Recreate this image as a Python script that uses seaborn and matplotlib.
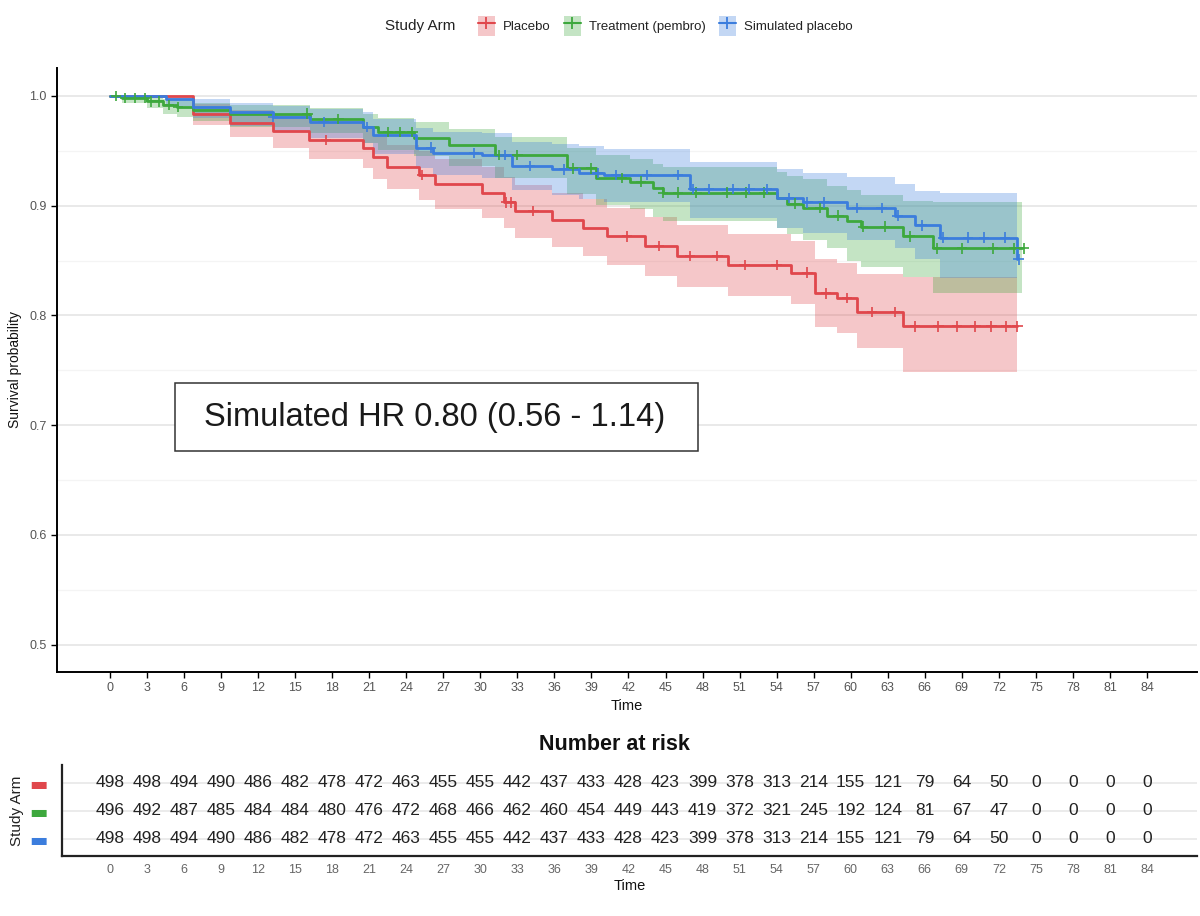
import numpy as np
import pandas as pd
import matplotlib
matplotlib.use("Agg")
import matplotlib.pyplot as plt
from matplotlib.patches import Patch, Rectangle
from matplotlib.lines import Line2D
import seaborn as sns

# ---- data ----
arms = ["Placebo", "Treatment (pembro)", "Simulated placebo"]
colors = ["#E0474C", "#3DA83D", "#3B7DDD"]

# Placebo (red)
pl_time = [0, 6.7, 9.7, 13.2, 16.1, 20.5, 21.3, 22.4, 25.0, 26.3, 30.1, 31.9, 32.8,
           35.8, 38.3, 40.3, 43.3, 45.9, 50.1, 55.2, 57.1, 58.9, 60.5, 64.2, 73.5]
pl_surv = [1.0, 0.984, 0.975, 0.968, 0.960, 0.953, 0.944, 0.935, 0.928, 0.920, 0.912, 0.903, 0.895,
           0.887, 0.880, 0.872, 0.863, 0.854, 0.846, 0.839, 0.820, 0.816, 0.803, 0.790, 0.790]
pl_lo = [1.0, 0.974, 0.963, 0.953, 0.943, 0.934, 0.924, 0.915, 0.905, 0.897, 0.889, 0.880, 0.871,
         0.862, 0.854, 0.846, 0.836, 0.826, 0.818, 0.810, 0.789, 0.784, 0.770, 0.748, 0.748]
pl_hi = [1.0, 0.993, 0.987, 0.983, 0.977, 0.972, 0.964, 0.955, 0.950, 0.943, 0.935, 0.926, 0.919,
         0.912, 0.906, 0.898, 0.890, 0.882, 0.874, 0.868, 0.851, 0.848, 0.838, 0.835, 0.835]
pl_cens = [17.5, 25.3, 32.1, 32.5, 34.3, 41.9, 44.5, 47.0, 49.2, 51.4, 54.0, 56.5, 58.0, 59.7,
           61.7, 63.6, 65.2, 67.1, 68.6, 70.1, 71.4, 72.6, 73.5]

# Treatment (green)
tr_time = [0, 1.0, 3.0, 4.3, 5.4, 6.7, 9.7, 16.2, 20.5, 21.7, 24.6, 27.5, 31.2, 37.0, 39.4,
           42.1, 44.0, 44.8, 54.0, 54.8, 56.1, 58.1, 59.7, 60.8, 64.2, 66.7, 73.9]
tr_surv = [1.0, 0.998, 0.995, 0.992, 0.990, 0.987, 0.984, 0.979, 0.972, 0.967, 0.962, 0.955, 0.946,
           0.934, 0.925, 0.922, 0.916, 0.912, 0.907, 0.902, 0.898, 0.891, 0.886, 0.881, 0.872,
           0.861, 0.861]
tr_lo = [1.0, 0.994, 0.989, 0.984, 0.981, 0.977, 0.972, 0.966, 0.957, 0.951, 0.945, 0.936, 0.925,
         0.911, 0.901, 0.897, 0.890, 0.886, 0.880, 0.874, 0.869, 0.861, 0.850, 0.844, 0.835,
         0.820, 0.820]
tr_hi = [1.0, 1.0, 0.999, 0.997, 0.996, 0.994, 0.992, 0.989, 0.984, 0.980, 0.976, 0.970, 0.963,
         0.953, 0.946, 0.943, 0.938, 0.935, 0.931, 0.927, 0.924, 0.918, 0.914, 0.910, 0.904,
         0.903, 0.903]
tr_cens = [0.5, 1.2, 2.0, 2.8, 3.3, 4.0, 4.8, 5.5, 16.0, 18.5, 22.5, 23.5, 24.5, 31.5, 33.0,
           37.5, 39.0, 41.5, 43.0, 44.8, 46.0, 47.5, 50.0, 51.5, 53.0, 55.5, 57.5, 59.0, 61.0,
           62.8, 64.8, 67.0, 69.0, 71.5, 73.2, 74.0]

# Simulated placebo (blue)
sp_time = [0, 4.5, 6.7, 9.7, 13.2, 16.2, 20.5, 21.3, 24.8, 26.2, 30.1, 32.6, 35.8, 38.0, 40.0,
           47.0, 54.0, 56.1, 59.7, 63.6, 65.2, 67.2, 73.5]
sp_surv = [1.0, 0.997, 0.990, 0.985, 0.981, 0.976, 0.972, 0.964, 0.953, 0.948, 0.946, 0.936, 0.933,
           0.930, 0.928, 0.915, 0.907, 0.903, 0.898, 0.891, 0.882, 0.871, 0.851]
sp_lo = [1.0, 0.991, 0.980, 0.973, 0.968, 0.962, 0.957, 0.947, 0.934, 0.928, 0.925, 0.914, 0.910,
         0.906, 0.903, 0.889, 0.880, 0.875, 0.869, 0.861, 0.851, 0.834, 0.834]
sp_hi = [1.0, 1.0, 0.997, 0.994, 0.991, 0.988, 0.985, 0.979, 0.971, 0.967, 0.966, 0.958, 0.956,
         0.954, 0.952, 0.940, 0.933, 0.930, 0.926, 0.920, 0.913, 0.912, 0.912]
sp_cens = [13.2, 17.3, 20.8, 26.0, 29.5, 32.0, 34.0, 36.8, 39.5, 41.0, 43.5, 46.0, 47.2, 48.5,
           50.5, 51.8, 53.2, 55.0, 56.5, 57.8, 60.5, 62.5, 63.8, 65.8, 67.5, 69.5, 70.8, 72.5, 73.6]

# number at risk
risk_times = list(range(0, 85, 3))
risk_placebo = [498, 498, 494, 490, 486, 482, 478, 472, 463, 455, 455, 442, 437, 433, 428, 423,
                399, 378, 313, 214, 155, 121, 79, 64, 50, 0, 0, 0, 0]
risk_treat = [496, 492, 487, 485, 484, 484, 480, 476, 472, 468, 466, 462, 460, 454, 449, 443,
              419, 372, 321, 245, 192, 124, 81, 67, 47, 0, 0, 0, 0]
risk_sim = [498, 498, 494, 490, 486, 482, 478, 472, 463, 455, 455, 442, 437, 433, 428, 423,
            399, 378, 313, 214, 155, 121, 79, 64, 50, 0, 0, 0, 0]

curves = [(pl_time, pl_surv, pl_lo, pl_hi, pl_cens),
          (tr_time, tr_surv, tr_lo, tr_hi, tr_cens),
          (sp_time, sp_surv, sp_lo, sp_hi, sp_cens)]
risk = [risk_placebo, risk_treat, risk_sim]

# long tables for seaborn
surv_df = pd.concat([pd.DataFrame({"time": c[0], "surv": c[1], "arm": a})
                     for a, c in zip(arms, curves)], ignore_index=True)
cens_rows = []
for a, c in zip(arms, curves):
    t = np.array(c[0])
    s = np.array(c[1])
    for ct in c[4]:
        idx = np.searchsorted(t, ct, side="right") - 1
        cens_rows.append({"time": ct, "surv": s[idx], "arm": a})
cens_df = pd.DataFrame(cens_rows)

sns.set_theme(style="white")
plt.rcParams["font.family"] = ["Liberation Sans", "DejaVu Sans"]

W, H = 1200, 916
fig = plt.figure(figsize=(12, 9.16), dpi=100)
pal = dict(zip(arms, colors))

# ---- main survival panel ----
ax = fig.add_axes([57 / W, 1 - 672 / H, 1140 / W, 604 / H])
for (a, c), col in zip(zip(arms, curves), colors):
    ax.fill_between(c[0], c[2], c[3], step="post", color=col, alpha=0.3, lw=0, zorder=1)
sns.lineplot(data=surv_df, x="time", y="surv", hue="arm", palette=pal, estimator=None,
             drawstyle="steps-post", lw=2, legend=False, ax=ax, zorder=3)
sns.scatterplot(data=cens_df, x="time", y="surv", hue="arm", palette=pal, marker="+",
                s=55, linewidth=1.2, legend=False, ax=ax, zorder=4)

ax.set_xlim(-4.29, 88.05)
ax.set_ylim(0.475, 1.0255)
ax.set_xticks(risk_times)
ax.set_yticks([0.5, 0.6, 0.7, 0.8, 0.9, 1.0])
ax.set_yticks(np.arange(0.55, 1.0, 0.1), minor=True)
ax.grid(False)
ax.yaxis.grid(True, which="major", color="#E3E3E3", lw=1.1)
ax.yaxis.grid(True, which="minor", color="#F4F4F4", lw=0.9)
ax.set_axisbelow(True)
for sp in ["top", "right"]:
    ax.spines[sp].set_visible(False)
for sp in ["left", "bottom"]:
    ax.spines[sp].set_color("black")
    ax.spines[sp].set_linewidth(1.4)
ax.tick_params(axis="both", which="major", direction="out", length=4, width=1,
               color="black", labelcolor="#555555", labelsize=9, bottom=True, left=True)
ax.tick_params(axis="y", which="minor", length=0)
ax.set_xlabel("Time", fontsize=10.5, color="#111111", labelpad=3)
ax.set_ylabel("Survival probability", fontsize=10, color="#111111", labelpad=5)

# HR annotation box
ax.add_patch(Rectangle((0.1035, 0.366), 0.4588, 0.1125, transform=ax.transAxes,
                       fc="white", ec="#333333", lw=1.1, zorder=5))
ax.text(0.331, 0.422, "Simulated HR 0.80 (0.56 - 1.14)", transform=ax.transAxes,
        ha="center", va="center", fontsize=23.5, color="#1A1A1A", zorder=6)

# legend on top
handles = [(Patch(fc=c, alpha=0.3, lw=0),
            Line2D([], [], color=c, lw=1.5, marker="+", ms=8, mew=1.3)) for c in colors]
fig.text(385 / W, 1 - 26 / H, "Study Arm", fontsize=11, va="center", ha="left", color="#222222")
fig.legend(handles, arms, loc="center left", bbox_to_anchor=(466 / W, 1 - 26 / H), ncol=3,
           frameon=False, fontsize=9.5, handlelength=1.3, handleheight=1.9,
           handletextpad=0.6, columnspacing=1.0, labelcolor="#222222")

# ---- number at risk table ----
axt = fig.add_axes([62 / W, 1 - 856 / H, 1135 / W, 91 / H])
for i, (vals, col) in enumerate(zip(risk, colors)):
    for t, n in zip(risk_times, vals):
        axt.text(t, i, str(n), ha="center", va="center", fontsize=12.5, color="#222222")
axt.set_xlim(-3.89, 88.05)
axt.set_ylim(2.61, -0.64)
axt.set_xticks(risk_times)
axt.set_yticks([0, 1, 2])
axt.set_yticklabels(["\u25AC"] * 3, fontsize=14, family="DejaVu Sans")
for lab, col in zip(axt.get_yticklabels(), colors):
    lab.set_color(col)
axt.grid(False)
axt.yaxis.grid(True, color="#E6E6E6", lw=1.1)
axt.set_axisbelow(True)
for sp in ["top", "right"]:
    axt.spines[sp].set_visible(False)
for sp in ["left", "bottom"]:
    axt.spines[sp].set_color("#222222")
    axt.spines[sp].set_linewidth(1.6)
axt.tick_params(axis="x", length=0, labelcolor="#666666", labelsize=9, pad=6)
axt.tick_params(axis="y", length=0, pad=10)
axt.set_xlabel("Time", fontsize=10.5, color="#111111", labelpad=2)
axt.set_ylabel("Study Arm", fontsize=11, color="#222222", labelpad=4)
fig.text(614 / W, 1 - 745 / H, "Number at risk", fontsize=15.5, fontweight="bold",
         ha="center", va="center", color="#111111")

fig.savefig("out.png", dpi=100)
